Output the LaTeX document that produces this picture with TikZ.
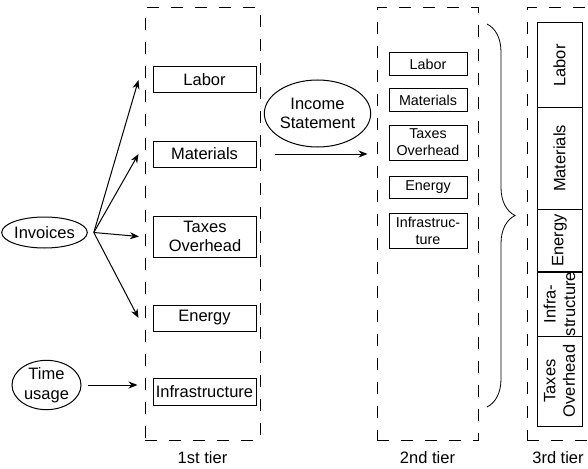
\documentclass[tikz,border=0pt]{standalone}
\usepackage{fontspec}
\setmainfont{Liberation Sans}
\usetikzlibrary{arrows.meta,positioning,shapes.geometric,decorations.pathreplacing}

\tikzset{
  tier/.style={draw, dash pattern=on 12pt off 12pt, line width=1pt, inner sep=0pt},
  cost/.style={draw, line width=1pt, inner sep=0pt, align=center,
    font=\fontsize{16.5}{19.5}\selectfont},
  costsm/.style={cost, minimum width=78pt, font=\fontsize{14.3}{17}\selectfont},
  stack/.style={cost, rotate=90, minimum height=45pt},
  source/.style={draw, ellipse, line width=1pt, inner sep=0pt, align=center,
    font=\fontsize{16.5}{19.5}\selectfont},
  tierlabel/.style={inner sep=0pt, font=\fontsize{16.5}{19.5}\selectfont},
  arr/.style={-{Stealth[length=9pt,width=7pt]}, line width=1pt},
}

\begin{document}
\begin{tikzpicture}[x=1pt, y=-1pt]
  \useasboundingbox (0,0) rectangle (588,468);
  \clip (0,0) rectangle (588,468);
  % tier frames
  \node[tier, minimum width=115pt, minimum height=432pt] (t1) at (202.5,224) {};
  \node[tier, minimum width=101pt, minimum height=432pt] (t2) at (427.5,224) {};
  \node[tier, minimum width=65pt, minimum height=432pt] (t3) at (559.5,224) {};
  \node[tierlabel, below=11pt of t1] (l1) {1st tier};
  \node[tierlabel, below=11pt of t2] (l2) {2nd tier};
  \node[tierlabel, below=11pt of t3, xshift=-1.5pt] (l3) {3rd tier};
  % 1st tier
  \node[cost, minimum width=103pt, minimum height=26pt] (lab1) at (204.5,80) {Labor};
  \node[cost, minimum width=103pt, minimum height=26pt] (mat1) at (204.5,154) {Materials};
  \node[cost, minimum width=103pt, minimum height=41pt] (tax1) at (205,236.5) {Taxes\\Overhead};
  \node[cost, minimum width=103pt, minimum height=26pt] (ene1) at (204.5,318) {Energy};
  \node[cost, minimum width=103pt, minimum height=27pt] (inf1) at (204.5,391.5) {Infrastructure};
  % 2nd tier
  \node[costsm, minimum height=23pt] (lab2) at (428,64.5) {Labor};
  \node[costsm, minimum height=22pt] (mat2) at (428,100) {Materials};
  \node[costsm, minimum height=35pt] (tax2) at (428,142.5) {Taxes\\Overhead};
  \node[costsm, minimum height=22pt] (ene2) at (428,187) {Energy};
  \node[costsm, minimum height=35pt] (inf2) at (428,230.5) {Infrastruc-\\ture};
  % 3rd tier
  \node[stack, minimum width=85pt] (lab3) at (559.5,65.5) {Labor};
  \node[stack, minimum width=101pt] (mat3) at (559.5,158.5) {Materials};
  \node[stack, minimum width=63pt] (ene3) at (559.5,240.5) {Energy};
  \node[stack, minimum width=64pt] (inf3) at (559.5,304) {Infra-\\structure};
  \node[stack, minimum width=90pt] (tax3) at (559.5,381) {Taxes\\Overhead};
  % sources
  \node[source, minimum width=73pt, minimum height=31pt] (inv) at (44.5,232.5) {Invoices};
  \node[source, minimum width=69pt, minimum height=46pt] (time) at (46.5,385) {Time\\usage};
  \node[source, minimum width=105pt, minimum height=67pt] (inc) at (317.5,113.5) {Income\\Statement};
  \coordinate (fork) at ([xshift=6pt]inv.east);
  % arrows
  \foreach \c in {lab1,mat1,tax1,ene1}
    \draw[arr] (fork) -- ([xshift=-14pt]\c.west);
  \draw[arr, shorten <=6pt, shorten >=7pt] (time.east) -- (time.east -| t1.west);
  \draw[arr, shorten <=14pt, shorten >=9pt] (t1.east |- mat1) -- (t2.west |- mat1);
  % brace
  \draw[decorate, decoration={brace, amplitude=28pt}, line width=0.8pt] (487,24) -- (487,407);
\end{tikzpicture}
\end{document}
